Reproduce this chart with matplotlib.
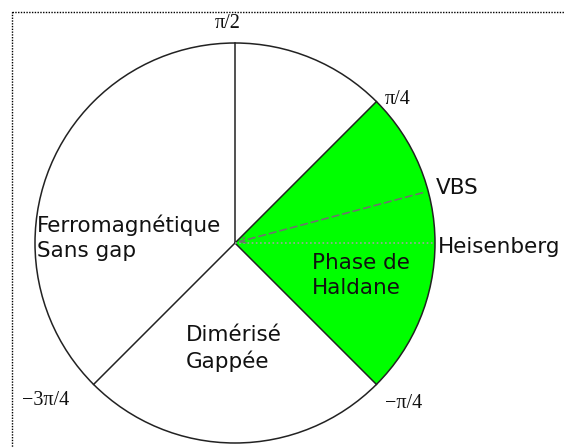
import numpy as np
import matplotlib.pyplot as plt
from matplotlib.patches import Circle, Wedge, Rectangle

# phase boundaries (degrees) and labels
boundary_angles = [90, 45, -45, -135]
boundary_labels = [r"π/2", r"π/4", r"−π/4", r"−3π/4"]
haldane_range = [-45, 45]
vbs_angle = 15
heisenberg_angle = 0
phase_names = ["Ferromagnétique\nSans gap", "Phase de\nHaldane", "Dimérisé\nGappée"]

cx, cy, R = 235, 243, 200

fig = plt.figure(figsize=(5.64, 4.48), dpi=100)
ax = fig.add_axes([0, 0, 1, 1])
ax.set_xlim(0, 564)
ax.set_ylim(448, 0)
ax.set_aspect('equal')
ax.axis('off')

# dotted frame
ax.add_patch(Rectangle((12, 12), 600, 500, fill=False, ec='black', lw=1.0, ls=(0, (1, 1))))

# Haldane phase (y axis is inverted, so angles are negated)
ax.add_patch(Wedge((cx, cy), R, -haldane_range[1], -haldane_range[0], fc='#00ff00', ec='none'))
ax.add_patch(Circle((cx, cy), R, fill=False, ec='#222222', lw=1.1))

for a in boundary_angles:
    t = np.deg2rad(a)
    ax.plot([cx, cx + R * np.cos(t)], [cy, cy - R * np.sin(t)], color='#222222', lw=1.1)

# VBS dashed line with arrow towards the centre
t = np.deg2rad(vbs_angle)
ax.annotate('', xy=(cx + 3, cy - 1), xytext=(cx + 0.97 * R * np.cos(t), cy - 0.97 * R * np.sin(t)),
            arrowprops=dict(arrowstyle='->', color='#707070', lw=1.2, ls=(0, (4, 2.5)),
                            shrinkA=0, shrinkB=0))
# Heisenberg dotted line
t = np.deg2rad(heisenberg_angle)
ax.plot([cx, cx + R * np.cos(t)], [cy, cy - R * np.sin(t)], color='#a0a0a0', lw=1.2, ls=(0, (1, 1.5)))

serif = dict(family='Liberation Serif', fontsize=14.5, color='#111111')
ax.text(228, 28, boundary_labels[0], ha='center', va='baseline', **serif)
ax.text(385, 104, boundary_labels[1], ha='left', va='baseline', **serif)
ax.text(385, 408, boundary_labels[2], ha='left', va='baseline', **serif)
ax.text(22, 405, boundary_labels[3], ha='left', va='baseline', **serif)

sans = dict(family='DejaVu Sans', fontsize=15.5, color='#111111', linespacing=1.33)
ax.text(37, 257, phase_names[0], ha='left', va='baseline', **sans)
ax.text(312, 294, phase_names[1], ha='left', va='baseline', **sans)
ax.text(186, 368, phase_names[2], ha='left', va='baseline', **sans)
ax.text(436, 194, "VBS", ha='left', va='baseline', **sans)
ax.text(438, 253, "Heisenberg", ha='left', va='baseline', **sans)

fig.savefig('out.png', dpi=100)
